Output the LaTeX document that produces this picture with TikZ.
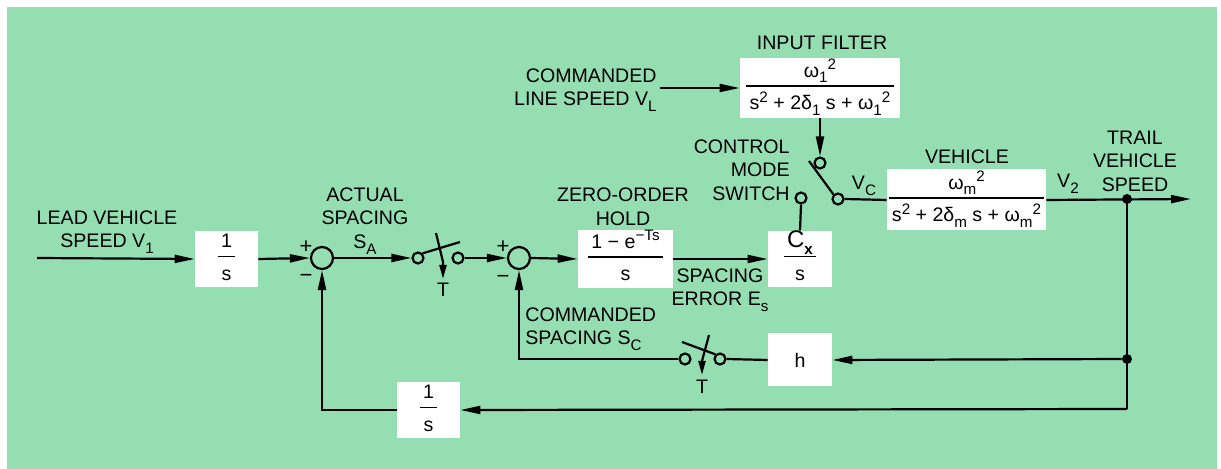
\documentclass[tikz,border=0pt]{standalone}
\usepackage{fontspec}
\setmainfont{Liberation Sans}
\usetikzlibrary{arrows.meta}
\definecolor{bggreen}{RGB}{148,222,178}
\newcommand\lo[1]{\raisebox{-0.55ex}{\fontsize{7.6}{8}\selectfont #1}}
\newcommand\hi[1]{\raisebox{0.7ex}{\fontsize{7.6}{8}\selectfont #1}}
\setlength{\arrayrulewidth}{0.75pt}
\newcommand\fr[2]{\begin{tabular}{@{\,}c@{\,}}#1\\[0.5pt]\hline\rule{0pt}{11.5pt}#2\end{tabular}}
\begin{document}
\begin{tikzpicture}[x=0.5pt,y=-0.5pt,
  every node/.style={font=\fontsize{9.8}{11.8}\selectfont, inner sep=0pt},
  box/.style={fill=white, draw=none, minimum height=28pt},
  sumn/.style={circle, draw, line width=1.1pt, fill=bggreen, minimum size=11pt},
  swc/.style={circle, draw, line width=1.1pt, fill=bggreen, minimum size=5.5pt},
  dotn/.style={circle, fill=black, minimum size=5pt},
  lbl/.style={align=center},
  sgn/.style={font=\fontsize{11}{12}\selectfont},
  wire/.style={line width=1.1pt},
  arr/.style={line width=1.1pt, -{Triangle[length=10pt,width=4pt]}},
  sarr/.style={line width=1.1pt, -{Triangle[length=7pt,width=3.5pt]}}]
\useasboundingbox (0,0) rectangle (1221,469);
\fill[white] (0,0) rectangle (1221,469);
\fill[bggreen] (7,7) rectangle (1217,469);

% blocks
\node[box, minimum width=31.5pt] (int1) at (226.5,259) {\fr{1}{s}};
\node[box, minimum width=47.5pt] (zoh) at (625.5,259) {\fr{1 − e\hi{−Ts}}{s}};
\node[box, minimum width=32pt] (cx) at (800,259) {\fr{\fontsize{12}{13}\selectfont C\lo{\bfseries x}}{s}};
\node[box, minimum width=80pt, minimum height=30pt] (filt) at (820,88) {\fr{ω\lo{1}\hi{2}}{s\hi{2} + 2δ\lo{1} s + ω\lo{1}\hi{2}}};
\node[box, minimum width=79.5pt, minimum height=30.5pt] (veh) at (966.5,200) {\fr{ω\lo{m}\hi{2}}{s\hi{2} + 2δ\lo{m} s + ω\lo{m}\hi{2}}};
\node[box, minimum width=32pt, minimum height=26.5pt] (hb) at (800,360) {h};
\node[box, minimum width=31.5pt, minimum height=27pt] (int2) at (428.5,410) {\fr{1}{s}};

% summing junctions
\node[sumn] (s1) at (322,258) {};
\node[sumn] (s2) at (519,258) {};

% switch contacts
\node[swc] (sw1a) at (418,258) {};
\node[swc] (sw1b) at (458,258) {};
\node[swc] (sw2a) at (685,359) {};
\node[swc] (sw2b) at (720,359) {};
\node[swc] (cmA) at (820,163) {};
\node[swc] (cmB) at (838,199) {};
\node[swc] (cmC) at (801,198) {};

% junction dots
\node[dotn] (j1) at (1127,199) {};
\node[dotn] (j2) at (1127,359) {};
\coordinate (j3) at (1127,409);

% free ends
\coordinate (in1) at (37,258);
\coordinate (inVL) at (660,88);
\coordinate (out) at (1191,199);
\coordinate (b1) at (460,242);
\coordinate (b2) at (682,342);
\coordinate (bc) at (809,161);
\coordinate (k1a) at (436,233);
\coordinate (k1b) at (443,262);
\coordinate (k1c) at (443,279);
\coordinate (k2a) at (709,335);
\coordinate (k2b) at (702,361);
\coordinate (k2c) at (702,375);

% connectors
\draw[arr] (in1) -- (int1.west);
\draw[arr] (int1.east) -- (s1.west);
\draw[arr] (s1.east) -- (sw1a.west);
\draw[arr] (sw1b.east) -- (s2.west);
\draw[arr] (s2.east) -- (zoh.west);
\draw[arr] (zoh.east) -- (cx.west);
\draw[wire] (cx.north) -- (cmC.south);
\draw[arr] (inVL) -- (filt.west);
\draw[arr] (filt.south) -- (cmA.north);
\draw[wire] (bc) -- (cmB.north west);
\draw[wire] (cmB.east) -- (veh.west);
\draw[arr] (veh.east) -- (out);
\draw[wire] (j1) -- (j2) -- (j3);
\draw[arr] (j2) -- (hb.east);
\draw[wire] (hb.west) -- (sw2b.east);
\draw[arr] (sw2a.west) -| (s2.south);
\draw[arr] (j3) -- (int2.east);
\draw[arr] (int2.west) -| (s1.south);

% switch blades and clock arrows
\draw[wire] (sw1a.north east) -- (b1);
\draw[wire] (b2) -- (sw2b.north west);
\draw[sarr] (k1a) -- (k1b) -- (k1c);
\draw[sarr] (k2a) -- (k2b) -- (k2c);

% labels
\node[lbl] (lLead) at (107,232) {LEAD VEHICLE\\SPEED V\lo{1}};
\node[sgn] (p1) at (306,247) {+};
\node[sgn] (m1) at (306,278) {−};
\node[sgn] (p2) at (503,247) {+};
\node[sgn] (m2) at (503,279) {−};
\node[lbl] (lAct) at (365,221) {ACTUAL\\SPACING\\S\lo{A}};
\node[lbl] (lZoh) at (623,207) {ZERO-ORDER\\HOLD};
\node[lbl] (lErr) at (720,290) {SPACING\\ERROR E\lo{s}};
\node[align=left, anchor=west] (lCmdS) at (525,329) {COMMANDED\\SPACING S\lo{C}};
\node[align=right, anchor=east] (lMode) at (790,170) {CONTROL\\MODE\\SWITCH};
\node[align=right, anchor=east] (lVL) at (657,90) {COMMANDED\\LINE SPEED V\lo{L}};
\node (lFilt) at (822,43) {INPUT FILTER};
\node (lVeh) at (967,157) {VEHICLE};
\node (lVc) at (864,186) {V\lo{C}};
\node (lV2) at (1068,184) {V\lo{2}};
\node[lbl] (lTrail) at (1135,161) {TRAIL\\VEHICLE\\SPEED};
\node (lT1) at (443,290) {T};
\node (lT2) at (702,387) {T};
\end{tikzpicture}
\end{document}
